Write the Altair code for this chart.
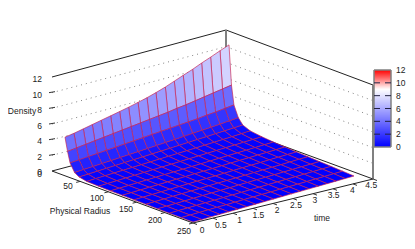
import altair as alt
import pandas as pd

# ---- data ----
radius = [23, 27.5, 32, 40, 48, 61.6, 82.6, 103.5, 124.5, 145.4, 166.4, 187.3, 208.3, 229.2, 250]
time = [0, 0.23, 0.47, 0.7, 0.93, 1.17, 1.4, 1.63, 1.87, 2.1, 2.33, 2.57, 2.8, 3.03, 3.27, 3.5, 3.73, 3.97, 4.2]
density = [
    [4.7, 4.85, 5.05, 5.25, 5.45, 5.65, 5.85, 6.05, 6.3, 6.55, 6.85, 7.2, 7.6, 8.0, 8.4, 8.85, 9.25, 9.7, 10.1],
    [3.0, 3.1, 3.2, 3.3, 3.4, 3.5, 3.6, 3.7, 3.8, 3.9, 4.0, 4.1, 4.25, 4.35, 4.5, 4.65, 4.8, 4.95, 5.1],
    [1.66, 1.7, 1.75, 1.8, 1.85, 1.9, 1.95, 2.0, 2.05, 2.1, 2.15, 2.2, 2.25, 2.3, 2.35, 2.45, 2.5, 2.6, 2.7],
    [.64, .67, .7, .73, .76, .79, .82, .85, .88, .91, .95, .98, 1.02, 1.06, 1.1, 1.14, 1.18, 1.24, 1.3],
    [.3, .31, .33, .34, .36, .37, .39, .4, .42, .43, .45, .46, .48, .5, .52, .54, .56, .58, .6],
    [.1, .11, .11, .12, .12, .13, .13, .14, .14, .15, .16, .16, .17, .18, .19, .2, .21, .23, .25],
    [.05, .05, .06, .06, .06, .07, .07, .07, .08, .08, .08, .09, .09, .1, .1, .1, .11, .11, .12],
    [.02, .02, .02, .02, .02, .03, .03, .03, .03, .03, .03, .03, .04, .04, .04, .04, .04, .05, .05],
    [.02, .02, .02, .02, .02, .02, .02, .02, .02, .02, .02, .03, .03, .03, .03, .03, .03, .03, .04],
    [.01, .01, .01, .01, .01, .01, .01, .01, .01, .01, .01, .02, .02, .02, .02, .02, .02, .02, .02],
    [.01, .01, .01, .01, .01, .01, .01, .01, .01, .01, .01, .01, .01, .01, .01, .01, .02, .02, .02],
    [0, 0, 0, 0, 0, .01, .01, .01, .01, .01, .01, .01, .01, .01, .01, .01, .01, .01, .01],
    [0, 0, 0, 0, 0, 0, 0, 0, 0, 0, .01, .01, .01, .01, .01, .01, .01, .01, .01],
    [0, 0, 0, 0, 0, 0, 0, 0, 0, 0, 0, 0, 0, 0, 0, 0, 0, 0, .01],
    [0, 0, 0, 0, 0, 0, 0, 0, 0, 0, 0, 0, 0, 0, 0, 0, 0, 0, 0],
]
density_ticks = [0, 2, 4, 6, 8, 10, 12]
radius_ticks = [50, 100, 150, 200, 250]
time_ticks = [0, 0.5, 1, 1.5, 2, 2.5, 3, 3.5, 4, 4.5]

# ---- view geometry (reference pixels) ----
LEFT, FRONT, RIGHT, BACK = (52, 171), (193, 223), (373, 179), (226, 125)
S_A, S_B, S_C, S_D = (65, 174), (193, 222), (354, 176), (229, 124)
Z_PX = 94 / 12
FONT = "Liberation Sans"
FS = 8.5
INK = "#222222"


def lerp(a, b, f):
    return (a[0] + (b[0] - a[0]) * f, a[1] + (b[1] - a[1]) * f)


def project(r, t, z):
    u, v = (r - 23) / 227, t / 4.2
    p = lerp(lerp(S_A, S_B, u), lerp(S_D, S_C, u), v)
    return [round(p[0], 2), round(p[1] - z * Z_PX, 2)]


# surface cells, back to front
features = []
for i in range(len(radius) - 1):
    for j in range(len(time) - 2, -1, -1):
        corners = [(i, j), (i + 1, j), (i + 1, j + 1), (i, j + 1), (i, j)]
        ring = [project(radius[a], time[b], density[a][b]) for a, b in corners]
        mean = sum(density[a][b] for a, b in corners[:4]) / 4
        features.append({"type": "Feature", "properties": {"v": mean},
                         "geometry": {"type": "Polygon", "coordinates": [ring]}})

X = alt.X("x:Q", scale=alt.Scale(domain=[8, 407], nice=False, zero=False), axis=None)
Y = alt.Y("y:Q", scale=alt.Scale(domain=[241, 8], nice=False, zero=False), axis=None)
COLOR = alt.Scale(domain=[0, 9, 12], range=["#0000ff", "#ffffff", "#ff0000"], interpolate="rgb")


def segments(rows, **style):
    df = pd.DataFrame(rows, columns=["x", "y", "x2", "y2"])
    return alt.Chart(df).mark_rule(**style).encode(x=X, y=Y, x2="x2:Q", y2="y2:Q")


def labels(rows, **style):
    df = pd.DataFrame(rows, columns=["x", "y", "label"])
    return alt.Chart(df).mark_text(font=FONT, fontSize=FS, color=INK, **style).encode(x=X, y=Y, text="label:N")


# walls
grid_rows = []
for z in density_ticks[1:-1]:
    dy = z * Z_PX
    grid_rows.append((LEFT[0], LEFT[1] - dy, BACK[0], BACK[1] - dy))
    grid_rows.append((BACK[0], BACK[1] - dy, RIGHT[0], RIGHT[1] - dy))
grid = segments(grid_rows, color="#666666", strokeWidth=1, strokeDash=[1, 4], strokeOpacity=0.8)

top_z = 12 * Z_PX
frame = segments([
    (LEFT[0], LEFT[1] - top_z, BACK[0], BACK[1] - top_z - 1),
    (BACK[0], BACK[1] - top_z - 1, RIGHT[0], RIGHT[1] - top_z),
    (LEFT[0], LEFT[1], BACK[0], BACK[1]),
    (BACK[0], BACK[1], RIGHT[0], RIGHT[1]),
], color="#222222", strokeWidth=1)
edges = segments([
    (BACK[0], BACK[1] - top_z - 1, BACK[0], BACK[1]),
    (RIGHT[0], RIGHT[1] - top_z, RIGHT[0], RIGHT[1]),
], color="#808080", strokeWidth=2)
front_axes = segments([
    (LEFT[0], LEFT[1], FRONT[0], FRONT[1]),
    (FRONT[0], FRONT[1], RIGHT[0], RIGHT[1]),
], color="#222222", strokeWidth=1)

# axis ticks
tick_rows = []
for z in density_ticks[1:-1]:
    tick_rows.append((LEFT[0] - 3, LEFT[1] - z * Z_PX, LEFT[0] + 3, LEFT[1] - z * Z_PX - 1))
for r in radius_ticks:
    p = lerp(LEFT, FRONT, r / 250)
    tick_rows.append((p[0], p[1], p[0] - 4, p[1] + 1))
for t in time_ticks:
    p = lerp(FRONT, RIGHT, t / 4.5)
    tick_rows.append((p[0], p[1], p[0] + 4, p[1] + 1.5))
ticks = segments(tick_rows, color="#333333", strokeWidth=1)

# surface
surface = (
    alt.Chart(alt.Data(values=features))
    .mark_geoshape(stroke="#c82050", strokeWidth=1, strokeOpacity=0.65)
    .encode(color=alt.Color("properties.v:Q", scale=COLOR, legend=None))
    .project(type="identity", scale=1, translate=[-8, -8])
)

# tick labels
density_labels = labels(
    [(42, 172 - z * 7.75, str(z)) for z in density_ticks] + [(42, 174, "0")],
    align="right", baseline="middle")
radius_labels = labels(
    [(39 + 0.58 * r, 175 + 0.225 * r, str(r)) for r in radius_ticks],
    align="center", baseline="middle")
time_labels = labels(
    [(202 + 37.6 * t, 230 - 10 * t, f"{t:g}") for t in time_ticks],
    align="center", baseline="middle")
titles = labels(
    [(22, 111, "Density"), (80, 211, "Physical Radius"), (322, 218, "time")],
    align="center", baseline="middle")

# colour bar
BAR_TOP, BAR_BOTTOM, BAR_L, BAR_R = 70, 147, 374, 391
n = BAR_BOTTOM - BAR_TOP
bar_df = pd.DataFrame([
    {"x": BAR_L, "x2": BAR_R, "y": BAR_BOTTOM - k, "y2": BAR_BOTTOM - k - 1, "v": 12 * (k + 0.5) / n}
    for k in range(n)
])
bar = alt.Chart(bar_df).mark_rect().encode(
    x=X, x2="x2:Q", y=Y, y2="y2:Q", color=alt.Color("v:Q", scale=COLOR, legend=None))
bar_y = lambda v: BAR_BOTTOM - v * n / 12
bar_border = segments([
    (BAR_L, BAR_TOP, BAR_L, BAR_BOTTOM),
    (BAR_R, BAR_TOP, BAR_R, BAR_BOTTOM),
    (BAR_L, BAR_TOP, BAR_R, BAR_TOP),
    (BAR_L, BAR_BOTTOM, BAR_R, BAR_BOTTOM),
], color="#808080", strokeWidth=1.5)
bar_tick_rows = []
for z in density_ticks[1:-1]:
    bar_tick_rows.append((BAR_L, bar_y(z), BAR_L + 6, bar_y(z)))
    bar_tick_rows.append((BAR_R - 6, bar_y(z), BAR_R, bar_y(z)))
bar_ticks = segments(bar_tick_rows, color="#222244", strokeWidth=1)
bar_labels = labels([(396, bar_y(z), str(z)) for z in density_ticks], align="left", baseline="middle")

chart = alt.layer(
    grid, frame, edges, surface, front_axes, ticks,
    bar, bar_border, bar_ticks,
    density_labels, radius_labels, time_labels, titles, bar_labels,
).properties(
    width=399, height=233, padding=0, autosize=alt.AutoSizeParams(type="none"),
).configure_view(stroke=None)

chart.save("out.html", embed_options={"renderer": "svg", "actions": False})
